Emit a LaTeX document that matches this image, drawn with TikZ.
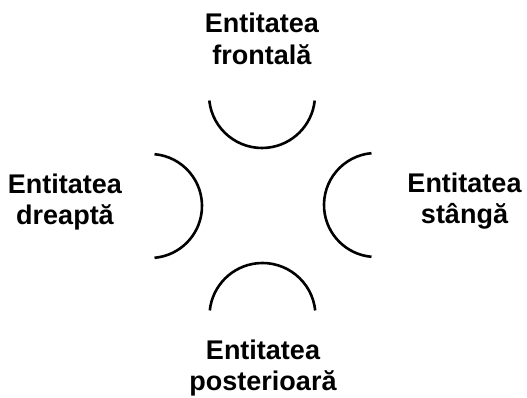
\documentclass[tikz,border=0pt]{standalone}
\usepackage{fontspec}
\setmainfont{Liberation Sans}
\begin{document}
\begin{tikzpicture}[x=1pt,y=1pt,
  lbl/.style={align=center,inner sep=0pt,font=\bfseries\fontsize{27}{31.5}\selectfont},
  socket/.style={line width=2.6pt,black}]
\useasboundingbox (0,0) rectangle (527,398);
\node[lbl] (front) at (262,359) {Entitatea\\frontală};
\node[lbl] (right) at (65,196) {Entitatea\\dreaptă};
\node[lbl] (left) at (464.5,197) {Entitatea\\stângă};
\node[lbl] (back) at (263,30) {Entitatea\\posterioară};
% arcs
\draw[socket] ([shift={(186:53)}]262,303) arc[start angle=186,end angle=354,radius=53];
\draw[socket] ([shift={(6:53)}]262.5,82) arc[start angle=6,end angle=174,radius=53];
\draw[socket] ([shift={(85:52)}]150,192) arc[start angle=85,end angle=-85,radius=52];
\draw[socket] ([shift={(95:52)}]376,193) arc[start angle=95,end angle=265,radius=52];
\end{tikzpicture}
\end{document}
